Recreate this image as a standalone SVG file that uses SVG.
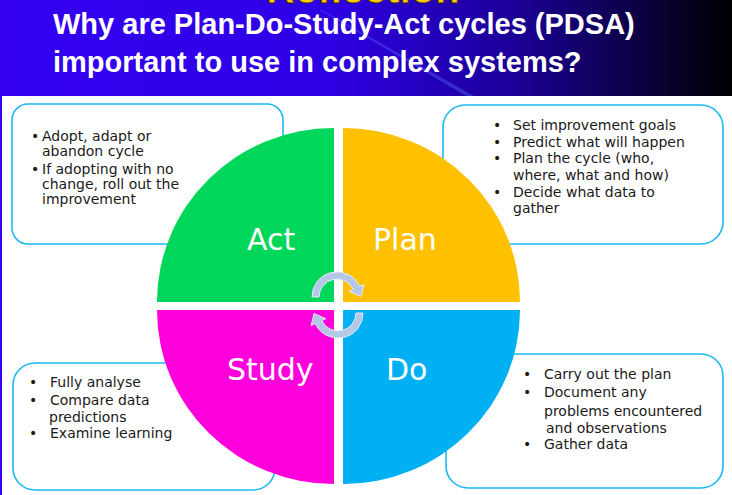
<svg xmlns="http://www.w3.org/2000/svg" width="732" height="495" viewBox="0 0 732 495">
<defs>
<linearGradient id="hdr" x1="0" y1="0" x2="1" y2="0">
<stop offset="0" stop-color="#3300F2"/>
<stop offset="0.45" stop-color="#2E00E4"/>
<stop offset="0.7" stop-color="#1C0098"/>
<stop offset="0.85" stop-color="#0E004E"/>
<stop offset="1" stop-color="#000000"/>
</linearGradient>
<path id="cyc" d="M312 297 A25 25 0 0 1 359.7 286.4 L363.8 284.5 L361 296.5 L349.2 291.3 L353.3 289.4 A18 18 0 0 0 319 297 Z"/>
</defs>
<style>
.box{fill:#ffffff;stroke:#1CB8F2;stroke-width:1.6}
.bt{font-family:"DejaVu Sans",Verdana,sans-serif;font-size:14px;fill:#1a1a1a}
.ql{font-family:"DejaVu Sans",Verdana,sans-serif;font-size:30px;fill:#ffffff}
.ttl{font-family:"Liberation Sans",Arial,sans-serif;font-weight:bold;font-size:29px;fill:#ffffff}
.arr{fill:#B4C7E7;stroke:#E4ECF8;stroke-width:1}
</style>
<rect x="0" y="0" width="732" height="495" fill="#ffffff"/>
<g id="header">
<rect x="0" y="0" width="732" height="96" fill="url(#hdr)"/>
<polygon points="320,10 322,10 474,96 466,96" fill="#5C78FF" opacity="0.35"/>
<text x="363" y="3" text-anchor="middle" font-family="Liberation Sans, Arial, sans-serif" font-weight="bold" font-size="40" fill="#FFCC00" stroke="#3a2a00" stroke-width="0.8">Reflection</text>
<text class="ttl" x="53" y="34">Why are Plan-Do-Study-Act cycles (PDSA)</text>
<text class="ttl" x="53" y="72">important to use in complex systems?</text>
</g>
<rect x="0" y="96" width="2" height="399" fill="#3300F2"/>
<g id="act-box">
<rect class="box" x="12" y="104" width="271" height="140" rx="16"/>
<text class="bt"><tspan x="31" y="141">•</tspan><tspan x="42" y="141">Adopt, adapt or</tspan><tspan x="42" y="156">abandon cycle</tspan><tspan x="31" y="174">•</tspan><tspan x="42" y="174">If adopting with no</tspan><tspan x="42" y="189">change, roll out the</tspan><tspan x="42" y="204">improvement</tspan></text>
</g>
<g id="plan-box">
<rect class="box" x="443" y="105" width="280" height="139" rx="22"/>
<text class="bt"><tspan x="493" y="130">•</tspan><tspan x="513" y="130">Set improvement goals</tspan><tspan x="493" y="147">•</tspan><tspan x="513" y="147">Predict what will happen</tspan><tspan x="493" y="163">•</tspan><tspan x="513" y="163">Plan the cycle (who,</tspan><tspan x="513" y="180">where, what and how)</tspan><tspan x="493" y="197">•</tspan><tspan x="513" y="197">Decide what data to</tspan><tspan x="513" y="213">gather</tspan></text>
</g>
<g id="study-box">
<rect class="box" x="13" y="363" width="262" height="127" rx="22"/>
<text class="bt"><tspan x="29" y="387">•</tspan><tspan x="50" y="387">Fully analyse</tspan><tspan x="29" y="405">•</tspan><tspan x="50" y="405">Compare data</tspan><tspan x="49" y="422">predictions</tspan><tspan x="29" y="438">•</tspan><tspan x="50" y="438">Examine learning</tspan></text>
</g>
<g id="do-box">
<rect class="box" x="446" y="354" width="277" height="134" rx="22"/>
<text class="bt"><tspan x="523" y="379">•</tspan><tspan x="544" y="379">Carry out the plan</tspan><tspan x="523" y="397">•</tspan><tspan x="544" y="397">Document any</tspan><tspan x="544" y="416">problems encountered</tspan><tspan x="546" y="433">and observations</tspan><tspan x="523" y="449">•</tspan><tspan x="544" y="449">Gather data</tspan></text>
</g>
<g id="act">
<path d="M334 302 L157 302 A177 174 0 0 1 334 128 Z" fill="#00D75A"/>
<text class="ql" x="247" y="250">Act</text>
</g>
<g id="plan">
<path d="M343 302 L343 128 A177 174 0 0 1 520 302 Z" fill="#FFC000"/>
<text class="ql" x="373" y="250">Plan</text>
</g>
<g id="study">
<path d="M334 310 L334 484 A177 174 0 0 1 157 310 Z" fill="#FF00DC"/>
<text class="ql" x="227" y="380">Study</text>
</g>
<g id="do">
<path d="M343 310 L520 310 A177 174 0 0 1 343 484 Z" fill="#00B0F3"/>
<text class="ql" x="386" y="380">Do</text>
</g>
<g id="connectors">
<use href="#cyc" class="arr"/>
<use href="#cyc" class="arr" transform="rotate(180 337.5 305)"/>
</g>
</svg>
